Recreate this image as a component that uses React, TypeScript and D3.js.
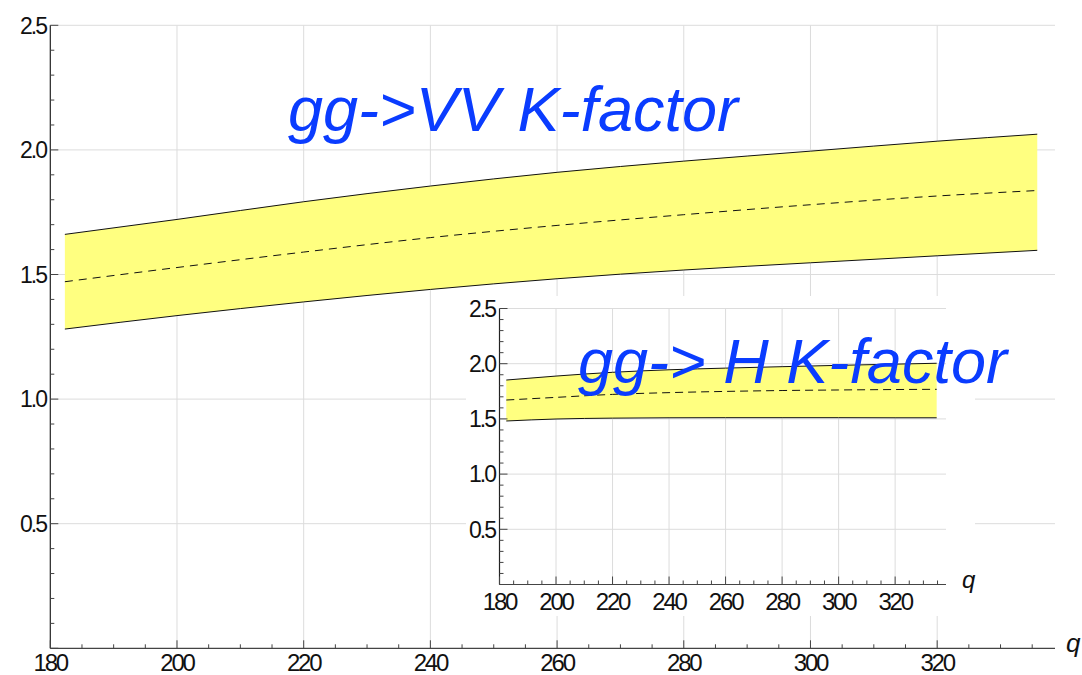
import React from "react";
import * as d3 from "d3";

// gg -> VV K-factor band (main panel)
const qMain = [182.3, 200, 220, 240, 260, 280, 300, 320, 335.8];
const vvUpper = [1.661, 1.721, 1.792, 1.855, 1.91, 1.955, 1.995, 2.035, 2.063];
const vvCentral = [1.471, 1.528, 1.59, 1.648, 1.697, 1.74, 1.78, 1.815, 1.837];
const vvLower = [1.281, 1.335, 1.39, 1.44, 1.483, 1.518, 1.547, 1.575, 1.597];

// gg -> H K-factor band (inset)
const qInset = [182.4, 200, 220, 240, 260, 280, 300, 320, 334.7];
const hUpper = [1.852, 1.888, 1.922, 1.945, 1.96, 1.973, 1.985, 1.996, 2.004];
const hCentral = [1.671, 1.695, 1.722, 1.738, 1.749, 1.757, 1.762, 1.766, 1.768];
const hLower = [1.481, 1.499, 1.507, 1.51, 1.511, 1.511, 1.511, 1.51, 1.51];

const xTickLabels = [180, 200, 220, 240, 260, 280, 300, 320];
const yTickLabels = ["0.5", "1.0", "1.5", "2.0", "2.5"];

const YELLOW = "#ffff80";
const GRID = "#dcdcdc";
const BLUE = "#0a3cff";
const FONT = "'Liberation Sans', Arial, Helvetica, sans-serif";

type PanelProps = {
  q: number[];
  upper: number[];
  central: number[];
  lower: number[];
  xDomain: [number, number];
  xRange: [number, number];
  yRange: [number, number];
  xLabelY: number;
  yLabelX: number;
  qLabel: [number, number];
  qSize: number;
  dash: string;
};

function Panel(p: PanelProps) {
  const x = d3.scaleLinear().domain(p.xDomain).range(p.xRange);
  const y = d3.scaleLinear().domain([0, 2.5]).range(p.yRange);
  const rows = p.q.map((v, i) => ({ q: v, lo: p.lower[i], mid: p.central[i], hi: p.upper[i] }));
  const area = d3
    .area<typeof rows[number]>()
    .x((d) => x(d.q))
    .y0((d) => y(d.lo))
    .y1((d) => y(d.hi))
    .curve(d3.curveMonotoneX);
  const line = (acc: (d: typeof rows[number]) => number) =>
    d3
      .line<typeof rows[number]>()
      .x((d) => x(d.q))
      .y((d) => y(acc(d)))
      .curve(d3.curveMonotoneX)(rows) || "";

  const [x0, x1] = p.xRange;
  const [yb, yt] = p.yRange;
  const xMinor = d3.range(180, p.xDomain[1], 5);
  const yMinor = d3.range(0, 2.5001, 0.1);

  return (
    <g>
      {/* grid */}
      {xTickLabels.slice(1).map((t) => (
        <line key={"gx" + t} x1={x(t)} x2={x(t)} y1={yb} y2={yt} stroke={GRID} strokeWidth={1} />
      ))}
      {yTickLabels.map((t) => (
        <line key={"gy" + t} x1={x0} x2={x1} y1={y(+t)} y2={y(+t)} stroke={GRID} strokeWidth={1} />
      ))}
      {/* band */}
      <path d={area(rows) || ""} fill={YELLOW} stroke="none" />
      <path d={line((d) => d.hi)} fill="none" stroke="#111" strokeWidth={1} />
      <path d={line((d) => d.lo)} fill="none" stroke="#111" strokeWidth={1} />
      <path d={line((d) => d.mid)} fill="none" stroke="#111" strokeWidth={1} strokeDasharray={p.dash} />
      {/* axes */}
      <line x1={x0} x2={x1} y1={yb} y2={yb} stroke="#444" strokeWidth={1.2} />
      <line x1={x0} x2={x0} y1={yb} y2={yt} stroke="#222" strokeWidth={1.2} />
      {xMinor.map((t) => {
        const major = t % 20 === 0;
        return (
          <line key={"tx" + t} x1={x(t)} x2={x(t)} y1={yb} y2={yb - (major ? 8 : 4)} stroke="#444" strokeWidth={1} />
        );
      })}
      {yMinor.map((t, i) => {
        const major = i % 5 === 0;
        return (
          <line key={"ty" + i} x1={x0} x2={x0 + (major ? 8 : 4)} y1={y(t)} y2={y(t)} stroke="#444" strokeWidth={1} />
        );
      })}
      {xTickLabels.map((t) => (
        <text key={"lx" + t} x={x(t)} y={p.xLabelY} textAnchor="middle" fontFamily={FONT} fontSize={24} letterSpacing={-2.2} fill="#111">
          {t}
        </text>
      ))}
      {yTickLabels.map((t) => (
        <text key={"ly" + t} x={p.yLabelX} y={y(+t)} dy="0.36em" textAnchor="end" fontFamily={FONT} fontSize={23} letterSpacing={-2} fill="#111">
          {t}
        </text>
      ))}
      <text x={p.qLabel[0]} y={p.qLabel[1]} fontFamily={FONT} fontStyle="italic" fontSize={p.qSize} fill="#111">
        q
      </text>
    </g>
  );
}

export default function App() {
  return (
    <svg width={1082} height={675} style={{ position: "absolute", left: 0, top: 0, background: "#fff" }}>
      <Panel
        q={qMain}
        upper={vvUpper}
        central={vvCentral}
        lower={vvLower}
        xDomain={[180, 338.6]}
        xRange={[50.3, 1055]}
        yRange={[648.3, 25.3]}
        xLabelY={671}
        yLabelX={46}
        qLabel={[1066, 652]}
        qSize={26}
        dash="8,6"
      />
      <text x={288} y={131} fontFamily={FONT} fontStyle="italic" fontSize={63} fill={BLUE}>
        gg-&gt;VV K-factor
      </text>

      {/* inset panel */}
      <rect x={466} y={296} width={509} height={320} fill="#fff" />
      <Panel
        q={qInset}
        upper={hUpper}
        central={hCentral}
        lower={hLower}
        xDomain={[180, 338]}
        xRange={[499.5, 946]}
        yRange={[584.5, 308.5]}
        xLabelY={610}
        yLabelX={495}
        qLabel={[962, 588]}
        qSize={24}
        dash="8,5"
      />
      <text x={578} y={383} fontFamily={FONT} fontStyle="italic" fontSize={63} fill={BLUE}>
        gg-&gt; H K-factor
      </text>
    </svg>
  );
}
